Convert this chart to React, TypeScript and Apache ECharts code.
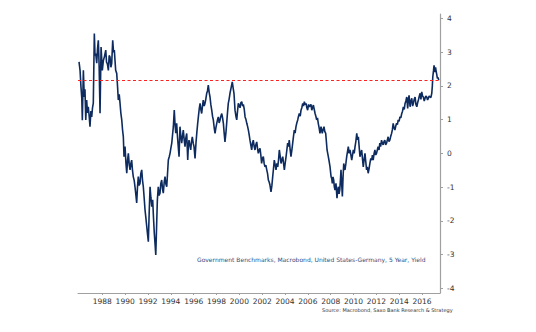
import React, { useEffect, useRef } from "react";
import * as echarts from "echarts";

// US-Germany 5Y yield spread
const years1986to1990: number[] = [
  1985.96, 1986.05, 1986.13, 1986.2, 1986.25, 1986.34, 1986.42, 1986.48, 1986.55, 1986.63, 1986.7, 1986.77,
  1986.85, 1986.92, 1987.0, 1987.07, 1987.14, 1987.21, 1987.3, 1987.36, 1987.42, 1987.51, 1987.58, 1987.65,
  1987.72, 1987.8, 1987.89, 1988.0, 1988.09, 1988.18, 1988.3, 1988.37, 1988.44, 1988.53, 1988.6, 1988.67,
  1988.75, 1988.82, 1988.91, 1988.98, 1989.05, 1989.17, 1989.26, 1989.33, 1989.4, 1989.48, 1989.55, 1989.62,
  1989.7, 1989.77, 1989.84, 1989.9, 1989.99,
];
const yields1986to1990: number[] = [
  2.71, 2.46, 1.97, 1.64, 0.98, 2.46, 1.67, 1.9, 0.99, 1.58, 1.2, 1.38,
  1.1, 0.79, 1.25, 1.08, 1.35, 1.49, 3.55, 2.9, 2.96, 2.67, 3.1, 3.35,
  2.6, 1.19, 3.15, 2.46, 2.75, 2.86, 3.06, 2.7, 2.66, 2.46, 2.9, 2.86,
  2.55, 2.66, 3.35, 3.0, 3.06, 2.46, 2.37, 2.0, 1.58, 1.75, 1.49, 1.2,
  0.99, 0.7, 0.49, -0.1, 0.2,
];

const years1990to1994: number[] = [
  1990.07, 1990.14, 1990.21, 1990.28, 1990.36, 1990.43, 1990.5, 1990.57, 1990.64, 1990.71, 1990.79, 1990.86,
  1990.93, 1991.01, 1991.08, 1991.15, 1991.22, 1991.3, 1991.37, 1991.45, 1991.52, 1991.59, 1991.66, 1991.74,
  1991.81, 1991.89, 1991.96, 1992.03, 1992.1, 1992.18, 1992.25, 1992.33, 1992.41, 1992.48, 1992.55, 1992.62,
  1992.68, 1992.75, 1992.82, 1992.9, 1992.97, 1993.05, 1993.12, 1993.2, 1993.27, 1993.34, 1993.42, 1993.49,
  1993.56, 1993.64, 1993.71, 1993.78, 1993.86, 1993.93, 1994.0, 1994.08, 1994.15, 1994.22, 1994.3, 1994.36,
  1994.43, 1994.51, 1994.58, 1994.65, 1994.72, 1994.8, 1994.88, 1994.95,
];
const yields1990to1994: number[] = [
  -0.3, -0.59, -0.2, 0.0, -0.35, -0.49, -0.3, -0.2, -0.5, -0.69, -0.8, -0.99,
  -1.2, -1.47, -1.0, -0.69, -0.95, -0.89, -0.6, -0.49, -0.8, -0.99, -1.3, -1.68,
  -1.9, -2.17, -2.4, -2.62, -1.8, -0.99, -1.3, -1.58, -1.38, -1.9, -2.36, -2.7,
  -3.01, -2.2, -1.38, -0.99, -1.25, -1.18, -0.9, -0.79, -1.05, -1.18, -0.85, -0.69,
  -0.9, -0.99, -0.6, -0.2, -0.1, 0.0, 0.15, 0.3, 0.55, 0.79, 1.28, 0.9,
  0.6, 0.89, 0.5, 0.2, -0.1, 0.79, 0.5, 0.3,
];

const years1995to2000: number[] = [
  1995.02, 1995.09, 1995.17, 1995.24, 1995.31, 1995.39, 1995.48, 1995.53, 1995.59, 1995.66, 1995.74, 1995.81,
  1995.88, 1995.96, 1996.03, 1996.12, 1996.2, 1996.27, 1996.34, 1996.41, 1996.48, 1996.56, 1996.63, 1996.7,
  1996.77, 1996.84, 1996.92, 1996.99, 1997.06, 1997.14, 1997.21, 1997.28, 1997.36, 1997.43, 1997.5, 1997.58,
  1997.65, 1997.72, 1997.8, 1997.87, 1997.94, 1998.02, 1998.09, 1998.16, 1998.23, 1998.31, 1998.38, 1998.46,
  1998.53, 1998.6, 1998.67, 1998.74, 1998.82, 1998.89, 1998.96, 1999.03, 1999.1, 1999.18, 1999.28, 1999.38,
  1999.45, 1999.53, 1999.62, 1999.7, 1999.77, 1999.84, 1999.91,
];
const yields1995to2000: number[] = [
  0.5, 0.69, 0.4, 0.2, 0.45, 0.59, -0.2, 0.2, 0.39, 0.25, 0.1, 0.35,
  0.49, 0.3, 0.2, -0.15, 0.3, 0.59, 0.85, 1.08, 1.3, 1.48, 1.3, 1.18,
  1.4, 1.58, 1.4, 1.48, 1.6, 1.78, 1.85, 2.02, 1.8, 1.67, 1.45, 1.28,
  1.1, 0.99, 0.75, 0.59, 0.75, 0.89, 1.0, 1.08, 0.9, 0.99, 1.1, 1.18,
  1.05, 0.89, 0.6, 0.34, 0.6, 0.89, 1.2, 1.48, 1.6, 1.78, 1.95, 2.12,
  1.95, 1.78, 1.28, 1.1, 0.99, 1.25, 1.48,
];

const years2000to2006: number[] = [
  2000.06, 2000.13, 2000.21, 2000.28, 2000.35, 2000.43, 2000.5, 2000.58, 2000.65, 2000.72, 2000.79, 2000.86,
  2000.93, 2001.0, 2001.08, 2001.15, 2001.22, 2001.3, 2001.37, 2001.44, 2001.52, 2001.59, 2001.66, 2001.74,
  2001.81, 2001.88, 2001.95, 2002.02, 2002.1, 2002.17, 2002.25, 2002.32, 2002.4, 2002.47, 2002.54, 2002.61,
  2002.68, 2002.77, 2002.85, 2002.92, 2002.99, 2003.06, 2003.14, 2003.21, 2003.29, 2003.36, 2003.43, 2003.5,
  2003.58, 2003.65, 2003.72, 2003.8, 2003.87, 2003.94, 2004.01, 2004.09, 2004.16, 2004.23, 2004.3, 2004.37,
  2004.45, 2004.52, 2004.6, 2004.67, 2004.74, 2004.81, 2004.88, 2004.96, 2005.03, 2005.11, 2005.18, 2005.25,
  2005.33, 2005.4, 2005.47, 2005.55, 2005.62, 2005.69, 2005.77, 2005.84, 2005.91, 2005.98, 2006.06, 2006.13,
];
const yields2000to2006: number[] = [
  1.35, 1.5, 1.53, 1.4, 1.45, 1.3, 1.08, 1.0, 0.89, 0.8, 0.69, 0.55,
  0.39, 0.25, 0.1, 0.3, 0.39, 0.2, 0.1, 0.25, 0.34, 0.15, 0.0, 0.1,
  0.15, -0.05, -0.3, -0.15, -0.1, -0.3, -0.4, -0.35, -0.49, -0.6, -0.79, -0.85,
  -0.94, -1.14, -0.95, -0.69, -0.45, -0.2, -0.35, -0.49, -0.3, -0.4, -0.2, 0.1,
  -0.1, -0.3, -0.2, -0.1, -0.3, -0.49, -0.3, -0.1, 0.1, 0.3, 0.2, 0.39,
  0.1, -0.1, 0.1, 0.3, 0.5, 0.69, 0.6, 0.79, 0.9, 0.99, 1.1, 1.18,
  1.1, 1.28, 1.35, 1.48, 1.4, 1.53, 1.45, 1.48, 1.35, 1.28, 1.45, 1.38,
];

const years2006to2011: number[] = [
  2006.19, 2006.27, 2006.34, 2006.41, 2006.48, 2006.56, 2006.63, 2006.7, 2006.77, 2006.84, 2006.91, 2006.99,
  2007.06, 2007.15, 2007.26, 2007.33, 2007.41, 2007.48, 2007.56, 2007.62, 2007.68, 2007.79, 2007.87, 2007.94,
  2008.03, 2008.09, 2008.14, 2008.2, 2008.26, 2008.32, 2008.38, 2008.46, 2008.55, 2008.61, 2008.67, 2008.73,
  2008.79, 2008.85, 2008.9, 2008.96, 2009.02, 2009.08, 2009.14, 2009.2, 2009.25, 2009.33, 2009.4, 2009.47,
  2009.54, 2009.62, 2009.69, 2009.77, 2009.84, 2009.91, 2009.98, 2010.06, 2010.13, 2010.2, 2010.28, 2010.35,
  2010.42, 2010.49, 2010.56, 2010.63, 2010.71, 2010.78, 2010.85, 2010.92, 2011.0, 2011.07, 2011.14, 2011.21,
  2011.28, 2011.36, 2011.43, 2011.51, 2011.59, 2011.65, 2011.72, 2011.8, 2011.87, 2011.94,
];
const yields2006to2011: number[] = [
  1.38, 1.45, 1.28, 1.35, 1.43, 1.3, 1.18, 1.1, 0.99, 1.05, 0.89, 0.75,
  0.59, 0.79, 0.59, 0.7, 0.79, 0.65, 0.59, 0.35, 0.1, -0.1, -0.25, -0.4,
  -0.69, -0.75, -0.89, -0.7, -0.79, -1.0, -1.09, -0.89, -1.33, -1.1, -0.99, -1.2,
  -1.09, -0.8, -0.49, -0.9, -1.28, -0.7, -0.3, -0.45, -0.49, -0.3, -0.1, 0.05,
  0.2, 0.0, 0.1, -0.05, -0.2, -0.05, 0.1, 0.0, 0.2, 0.35, 0.59, 0.4,
  0.49, 0.2, -0.1, 0.0, 0.1, -0.15, -0.4, -0.2, 0.0, -0.25, -0.49, -0.4,
  -0.59, -0.45, -0.3, -0.15, -0.2, -0.05, -0.2, 0.0, 0.1, -0.05,
];

const years2012to2017: number[] = [
  2012.01, 2012.08, 2012.15, 2012.23, 2012.3, 2012.37, 2012.45, 2012.52, 2012.59, 2012.67, 2012.74, 2012.81,
  2012.89, 2012.96, 2013.03, 2013.1, 2013.18, 2013.25, 2013.33, 2013.4, 2013.47, 2013.55, 2013.62, 2013.69,
  2013.77, 2013.84, 2013.91, 2013.99, 2014.06, 2014.14, 2014.22, 2014.29, 2014.36, 2014.44, 2014.51, 2014.58,
  2014.66, 2014.74, 2014.8, 2014.86, 2014.95, 2015.02, 2015.1, 2015.17, 2015.24, 2015.31, 2015.39, 2015.46,
  2015.54, 2015.61, 2015.68, 2015.76, 2015.83, 2015.9, 2015.97, 2016.04, 2016.11, 2016.19, 2016.26, 2016.33,
  2016.41, 2016.48, 2016.55, 2016.62, 2016.7, 2016.77, 2016.85, 2016.9, 2016.94, 2017.0, 2017.05, 2017.1,
  2017.14, 2017.18, 2017.22, 2017.28, 2017.34, 2017.4, 2017.46,
];
const yields2012to2017: number[] = [
  0.0, 0.1, 0.2, 0.1, 0.3, 0.2, 0.39, 0.3, 0.25, 0.35, 0.39, 0.25,
  0.3, 0.4, 0.49, 0.35, 0.39, 0.5, 0.59, 0.7, 0.89, 0.75, 0.69, 0.8,
  0.89, 0.85, 0.99, 0.95, 1.08, 1.05, 1.18, 1.25, 1.38, 1.3, 1.48, 1.55,
  1.67, 1.33, 1.6, 1.72, 1.38, 1.55, 1.63, 1.4, 1.48, 1.6, 1.67, 1.45,
  1.38, 1.5, 1.58, 1.7, 1.78, 1.6, 1.82, 1.7, 1.67, 1.55, 1.63, 1.7,
  1.67, 1.58, 1.63, 1.7, 1.67, 1.65, 1.78, 2.0, 2.27, 2.45, 2.61, 2.5,
  2.41, 2.55, 2.46, 2.35, 2.22, 2.25, 2.17,
];

const thresholdLevel = 2.17;
const xTickYears: number[] = [1988, 1990, 1992, 1994, 1996, 1998, 2000, 2002, 2004, 2006, 2008, 2010, 2012, 2014, 2016];
const yTickValues: number[] = [-4, -3, -2, -1, 0, 1, 2, 3, 4];

const seriesTitle = "Government Benchmarks, Macrobond, United States-Germany, 5 Year, Yield";
const sourceNote = "Source: Macrobond, Saxo Bank Research & Strategy";

function zip(xs: number[], ys: number[]): [number, number][] {
  return xs.map((x, i) => [x, ys[i]]);
}

export default function App() {
  const ref = useRef<HTMLDivElement>(null);

  useEffect(() => {
    if (!ref.current) return;
    const chart = echarts.init(ref.current, undefined, { renderer: "svg" });
    const data = [
      ...zip(years1986to1990, yields1986to1990),
      ...zip(years1990to1994, yields1990to1994),
      ...zip(years1995to2000, yields1995to2000),
      ...zip(years2000to2006, yields2000to2006),
      ...zip(years2006to2011, yields2006to2011),
      ...zip(years2012to2017, yields2012to2017),
    ];
    const font = "DejaVu Sans, Verdana, sans-serif";
    chart.setOption({
      animation: false,
      backgroundColor: "#ffffff",
      grid: { left: 78, right: 96, top: 14, bottom: 39 },
      xAxis: {
        type: "value",
        min: 1985.87,
        max: 2017.57,
        splitLine: { show: false },
        axisLine: { show: true, onZero: false, lineStyle: { color: "#a0a0a0", width: 1 } },
        axisTick: { show: true, length: 2, lineStyle: { color: "#a0a0a0" }, customValues: xTickYears },
        axisLabel: {
          customValues: xTickYears,
          margin: 4,
          color: "#333333",
          fontSize: 7.5,
          fontFamily: font,
          formatter: (v: number) => String(Math.round(v)),
        },
      },
      yAxis: {
        type: "value",
        position: "right",
        min: -4.14,
        max: 4.13,
        splitLine: { show: false },
        axisLine: { show: true, onZero: false, lineStyle: { color: "#a0a0a0", width: 1.2 } },
        axisTick: { show: true, length: 3, lineStyle: { color: "#a0a0a0" }, customValues: yTickValues },
        axisLabel: {
          customValues: yTickValues,
          margin: 7,
          color: "#333333",
          fontSize: 7.5,
          fontFamily: font,
          formatter: (v: number) => String(Math.round(v)),
        },
      },
      series: [
        {
          type: "line",
          data,
          showSymbol: false,
          symbol: "none",
          lineStyle: { color: "#0d2b5e", width: 1.6 },
          markLine: {
            silent: true,
            symbol: "none",
            label: { show: false },
            lineStyle: { color: "#ff2020", type: [3, 2.5], width: 1 },
            data: [{ yAxis: thresholdLevel }],
          },
        },
      ],
      graphic: [
        {
          type: "text",
          left: 197,
          top: 256,
          style: { text: seriesTitle, fill: "#2f4f82", font: `6px ${font}` },
        },
        {
          type: "text",
          left: 322,
          top: 307,
          style: { text: sourceNote, fill: "#333333", font: `5px ${font}` },
        },
      ],
    });
    return () => chart.dispose();
  }, []);

  return (
    <div
      ref={ref}
      style={{ position: "fixed", left: 0, top: 0, width: 536, height: 332, background: "#fff" }}
    />
  );
}
